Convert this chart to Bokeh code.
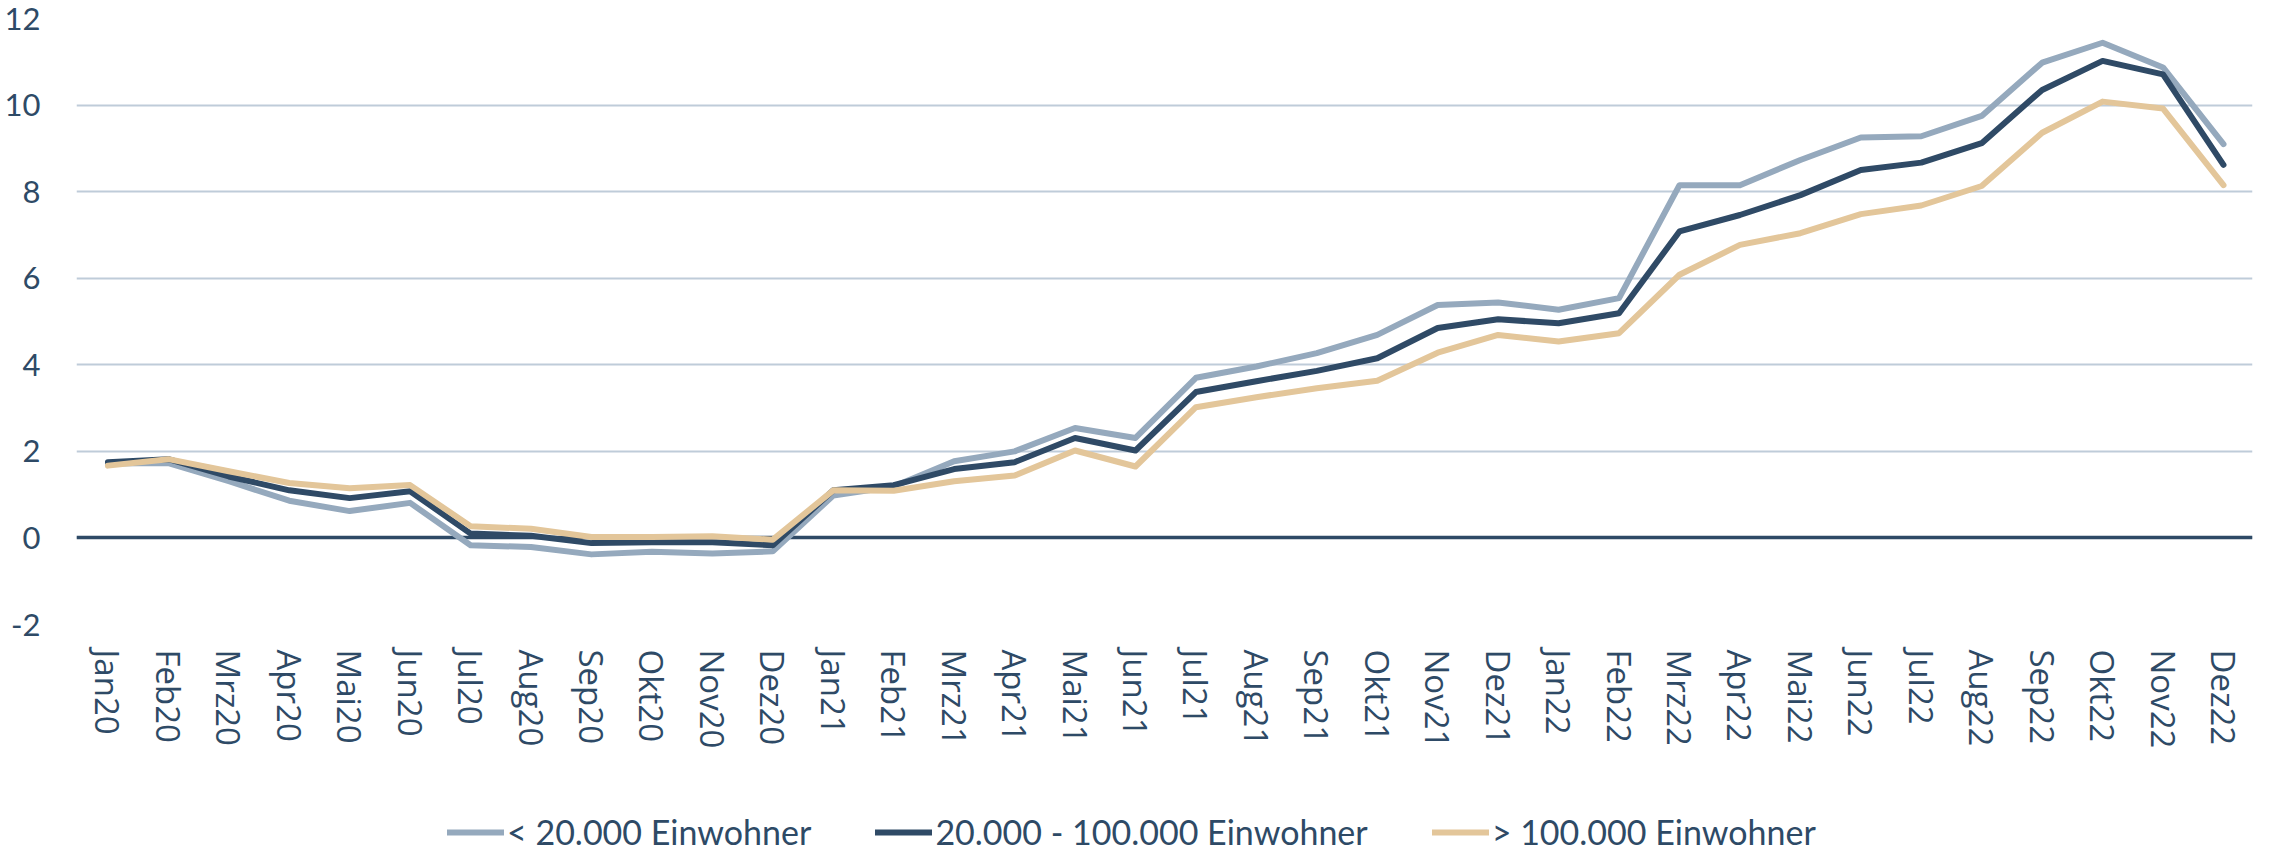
from bokeh.plotting import figure
from bokeh.layouts import column
from bokeh.models import Range1d, FixedTicker, Legend, LegendItem, ColumnDataSource
from bokeh.embed import file_html
from bokeh.resources import INLINE

months = ["Jan20", "Feb20", "Mrz20", "Apr20", "Mai20", "Jun20", "Jul20", "Aug20", "Sep20", "Okt20", "Nov20", "Dez20",
          "Jan21", "Feb21", "Mrz21", "Apr21", "Mai21", "Jun21", "Jul21", "Aug21", "Sep21", "Okt21", "Nov21", "Dez21",
          "Jan22", "Feb22", "Mrz22", "Apr22", "Mai22", "Jun22", "Jul22", "Aug22", "Sep22", "Okt22", "Nov22", "Dez22"]

small = [1.72, 1.73, 1.31, 0.86, 0.62, 0.81, -0.17, -0.21, -0.38, -0.32, -0.36, -0.31,
         0.98, 1.19, 1.77, 2.0, 2.54, 2.31, 3.7, 3.96, 4.27, 4.69, 5.38, 5.44,
         5.27, 5.54, 8.15, 8.15, 8.73, 9.25, 9.28, 9.75, 10.98, 11.44, 10.87, 9.1]

mid = [1.75, 1.82, 1.42, 1.1, 0.92, 1.08, 0.1, 0.05, -0.12, -0.1, -0.1, -0.17,
       1.1, 1.22, 1.59, 1.75, 2.31, 2.02, 3.37, 3.62, 3.86, 4.15, 4.85, 5.05,
       4.96, 5.19, 7.08, 7.46, 7.92, 8.5, 8.67, 9.12, 10.35, 11.02, 10.71, 8.62]

large = [1.67, 1.82, 1.54, 1.27, 1.15, 1.22, 0.27, 0.21, 0.02, 0.02, 0.04, -0.04,
         1.1, 1.09, 1.31, 1.44, 2.02, 1.65, 3.02, 3.25, 3.46, 3.63, 4.28, 4.69,
         4.54, 4.73, 6.08, 6.77, 7.04, 7.48, 7.68, 8.13, 9.36, 10.08, 9.92, 8.15]

series_names = ["< 20.000 Einwohner", "20.000 - 100.000 Einwohner", "> 100.000 Einwohner"]
series_colors = ["#95A9BD", "#2F4A66", "#E3C69A"]
y_ticks = [-2, 0, 2, 4, 6, 8, 10, 12]
y_labels = ["-2", "0", "2", "4", "6", "8", "10", "12"]

TEXT = "#2E4A66"

idx = list(range(len(months)))
src = ColumnDataSource(dict(x=idx, small=small, mid=mid, large=large))
keys = ["small", "mid", "large"]

# ---------------- main chart ----------------
p = figure(width=2254, height=754,
           x_range=Range1d(-0.52, len(months) - 0.52), y_range=Range1d(-2, 12),
           output_backend="svg", toolbar_location=None,
           min_border_left=76, min_border_right=2, min_border_top=18, min_border_bottom=130)
p.outline_line_color = None
p.background_fill_color = "white"
p.border_fill_color = "white"

# zero line
p.hspan(y=[0], line_color="#2E4A66", line_width=3.5)

for key, col in zip(keys, series_colors):
    p.line("x", key, source=src, line_color=col, line_width=6,
           line_join="round", line_cap="round")

# x axis
p.xaxis.ticker = FixedTicker(ticks=idx)
p.xaxis.major_label_overrides = {i: m for i, m in enumerate(months)}
p.xaxis.major_label_orientation = "vertical"
p.xaxis.axis_line_color = None
p.xaxis.major_tick_line_color = None
p.xaxis.minor_tick_line_color = None
p.xaxis.major_tick_out = 0
p.xaxis.major_tick_in = 0
p.xaxis.major_label_standoff = 25
p.xaxis.major_label_text_font = "Open Sans"
p.xaxis.major_label_text_font_size = "33px"
p.xaxis.major_label_text_color = TEXT

# y axis
p.yaxis.ticker = FixedTicker(ticks=y_ticks)
p.yaxis.major_label_overrides = {t: l for t, l in zip(y_ticks, y_labels)}
p.yaxis.axis_line_color = None
p.yaxis.major_tick_line_color = None
p.yaxis.minor_tick_line_color = None
p.yaxis.major_tick_out = 0
p.yaxis.major_tick_in = 0
p.yaxis.major_label_standoff = 36
p.yaxis.major_label_text_font = "Lato"
p.yaxis.major_label_text_font_size = "31px"
p.yaxis.major_label_text_color = TEXT

p.xgrid.grid_line_color = None
p.ygrid.ticker = FixedTicker(ticks=y_ticks)
p.ygrid.grid_line_color = "#BFCCD9"
p.ygrid.grid_line_width = 2

# ---------------- legend strip ----------------
# same series drawn with a range that keeps them off-screen; only their legend samples show
lg = figure(width=2254, height=92, x_range=Range1d(1000, 1001), y_range=Range1d(1000, 1001),
            output_backend="svg", toolbar_location=None,
            x_axis_location=None, y_axis_location=None,
            min_border_left=0, min_border_right=0, min_border_top=0, min_border_bottom=0)
lg.outline_line_color = None
lg.grid.visible = False
lg.border_fill_color = "white"
lg.background_fill_color = "white"

sample_renderers = []
for key, col in zip(keys, series_colors):
    r = lg.line("x", key, source=src, line_color=col, line_width=6, line_cap="round")
    sample_renderers.append(r)

legend = Legend(items=[LegendItem(label=n, renderers=[r]) for n, r in zip(series_names, sample_renderers)],
                orientation="horizontal", location=(371, -6),
                padding=0, margin=0, spacing=64, label_standoff=3,
                glyph_width=57, glyph_height=40, label_height=40,
                border_line_color=None, background_fill_alpha=0,
                label_text_font="Lato", label_text_font_size="34px",
                label_text_color=TEXT)
lg.add_layout(legend, "center")

layout = column(p, lg, spacing=0)
open("out.html", "w").write(file_html(layout, INLINE))
